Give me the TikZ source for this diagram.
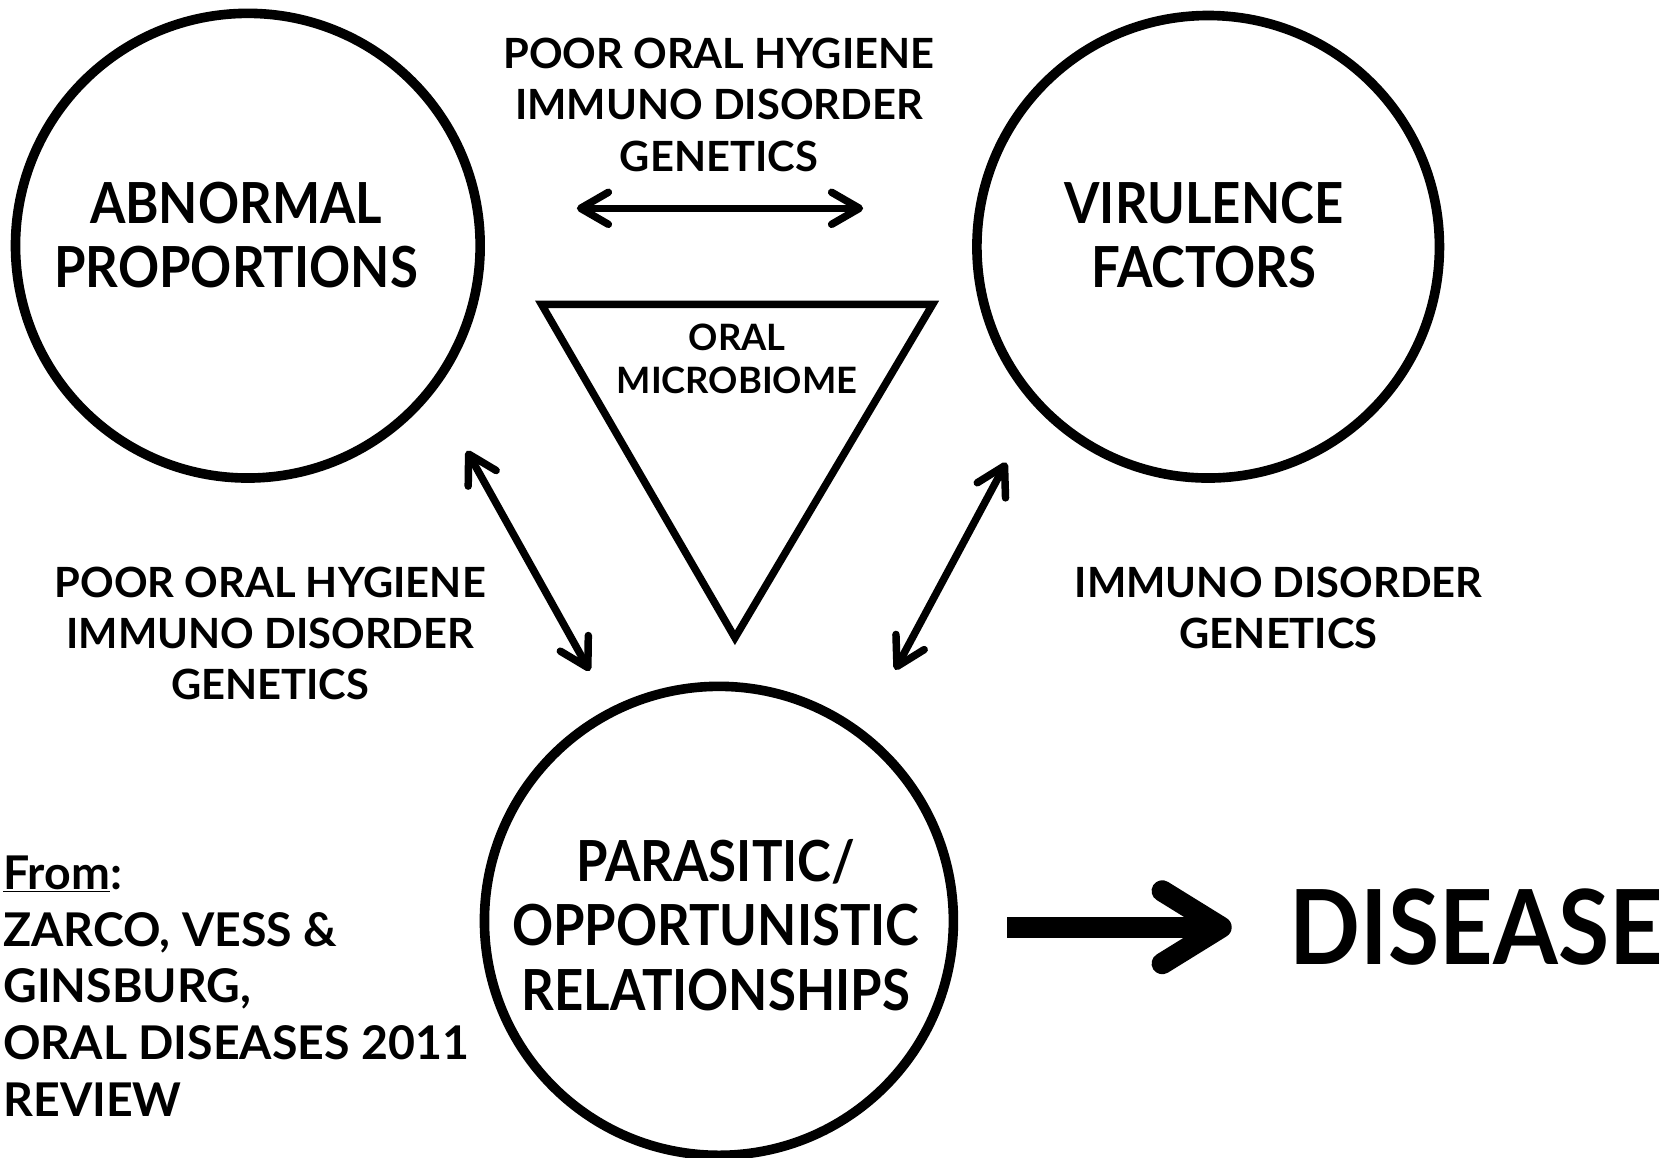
\documentclass[tikz,border=0pt]{standalone}
\usepackage{fontspec}
\setmainfont{Lato}
\newfontfamily\narrowlato{Lato}[FakeStretch=0.9]
\usetikzlibrary{calc,arrows.meta,positioning}

\begin{document}
\begin{tikzpicture}
[x=1pt, y=-1pt,
ring/.style={circle, draw, line width=9pt, minimum size=#1, inner sep=0pt},
inring/.style={align=center, font=\narrowlato\fontsize{53}{60}\selectfont\bfseries},
cause/.style={align=center, font=\fontsize{39}{48}\selectfont\bfseries},
both/.style={line width=7pt, {Straight Barb[length=26pt,width=30pt,round]}-{Straight Barb[length=26pt,width=30pt,round]}},
bigarr/.style={line width=20pt, -{Straight Barb[length=55pt,width=68pt,round]}}]

	\useasboundingbox (0,0) rectangle (1568,1084);

	\node (abn) at (232,230) [ring=435]{};
	\node (vir) at (1131,231) [ring=433]{};
	\node (para) at (673,862) [ring=439]{};

	\node (abnlab) at ($(abn)+(-11,-10)$) [inring]{ABNORMAL\\PROPORTIONS};
	\node (virlab) at ($(vir)+(-4,-11)$) [inring]{VIRULENCE\\FACTORS};
	\node (paralab) at ($(para)+(-3,4)$) [inring]{PARASITIC/\\OPPORTUNISTIC\\RELATIONSHIPS};

	% microbiome triangle
	\coordinate (tl) at (507,285);
	\coordinate (tr) at (873,285);
	\coordinate (tb) at (688,597);
	\draw[line width=7pt, line join=miter] (tl) -- (tr) -- (tb) -- cycle;
	\node (micro) at (690,336) [align=center, font=\fontsize{34}{41}\selectfont\bfseries]{ORAL\\MICROBIOME};

	\node (top) at (673,98) [cause]{POOR ORAL HYGIENE\\IMMUNO DISORDER\\GENETICS};
	\node (left) at (253,593) [cause]{POOR ORAL HYGIENE\\IMMUNO DISORDER\\GENETICS};
	\node (right) at (1197,569) [cause]{IMMUNO DISORDER\\GENETICS};

	\coordinate (topa) at (540,195);
	\coordinate (topb) at (808,195);
	\coordinate (lefta) at (437,422);
	\coordinate (leftb) at (552,628);
	\coordinate (righta) at (942,433);
	\coordinate (rightb) at (838,627);

	\draw[both] (topa) -- (topb);
	\draw[both] (lefta) -- (leftb);
	\draw[both] (righta) -- (rightb);

	\node (dis) at (1382,868) [font=\narrowlato\fontsize{97}{100}\selectfont\bfseries]{DISEASE};
	\coordinate (dstart) at (943,868);
	\coordinate (dtip) at (1153,868);
	\draw[bigarr] (dstart) -- (dtip);

	\node (src) at (3,923) [anchor=west, align=left, inner sep=0pt, font=\fontsize{43.5}{53}\selectfont\bfseries]{\underline{From}:\\ZARCO, VESS \&\\GINSBURG,\\ORAL DISEASES 2011\\REVIEW};

\end{tikzpicture}
\end{document}
